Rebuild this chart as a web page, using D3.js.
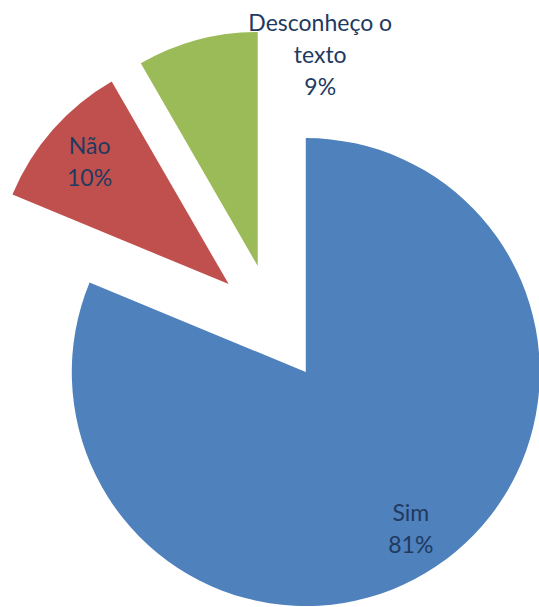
<!DOCTYPE html>
<html>
<head>
<meta charset="utf-8">
<script src="https://cdn.jsdelivr.net/npm/d3@7"></script>
<style>
  html, body { margin: 0; padding: 0; background: #fff; }
  svg { display: block; }
</style>
</head>
<body>
<svg id="chart" width="539" height="607"></svg>
<script>
// Data
const categories = ["Sim", "Não", "Desconheço o texto"];
const values = [81.25, 10.42, 8.33];
const percentLabels = ["81%", "10%", "9%"];
const labelLines = [["Sim"], ["Não"], ["Desconheço o", "texto"]];
const colors = ["#4F81BD", "#C0504D", "#9BBB59"];

const W = 539, H = 607;
const cx = 273, cy = 323, R = 234, explode = 59;
const fontSize = 23, lineH = 32;

const svg = d3.select("#chart");
const g = svg.append("g").attr("transform", `translate(${cx},${cy})`);

const pie = d3.pie().sort(null).value(d => d)(values);
const arc = d3.arc().innerRadius(0).outerRadius(R);

function offset(d) {
  const a = (d.startAngle + d.endAngle) / 2;
  return [explode * Math.sin(a), -explode * Math.cos(a)];
}

const slices = g.selectAll("g.slice").data(pie).enter().append("g")
  .attr("class", "slice")
  .attr("transform", d => { const o = offset(d); return `translate(${o[0]},${o[1]})`; });

slices.append("path")
  .attr("d", arc)
  .attr("fill", (d, i) => colors[i]);

// Label positions: inside labels along the mid-angle; last one placed outside above its slice
const labelRadius = [189, 185, null];
const outsideLabel = { angle: 10 * Math.PI / 180, r: 272 };

const labels = g.selectAll("text.lbl").data(pie).enter().append("text")
  .attr("class", "lbl")
  .attr("text-anchor", "middle")
  .attr("font-family", "Lato, 'Open Sans', sans-serif")
  .attr("font-size", fontSize)
  .attr("fill", "#1F3A60")
  .each(function(d, i) {
    let x, y;
    if (labelRadius[i] !== null) {
      const o = offset(d);
      const a = (d.startAngle + d.endAngle) / 2;
      x = o[0] + labelRadius[i] * Math.sin(a);
      y = o[1] - labelRadius[i] * Math.cos(a);
    } else {
      x = outsideLabel.r * Math.sin(outsideLabel.angle);
      y = -outsideLabel.r * Math.cos(outsideLabel.angle);
    }
    const lines = labelLines[i].concat([percentLabels[i]]);
    const n = lines.length;
    const t = d3.select(this);
    lines.forEach((ln, k) => {
      t.append("tspan")
        .attr("x", x)
        .attr("y", y + (k - (n - 1) / 2) * lineH)
        .attr("dy", "0.35em")
        .text(ln);
    });
  });
</script>
</body>
</html>
